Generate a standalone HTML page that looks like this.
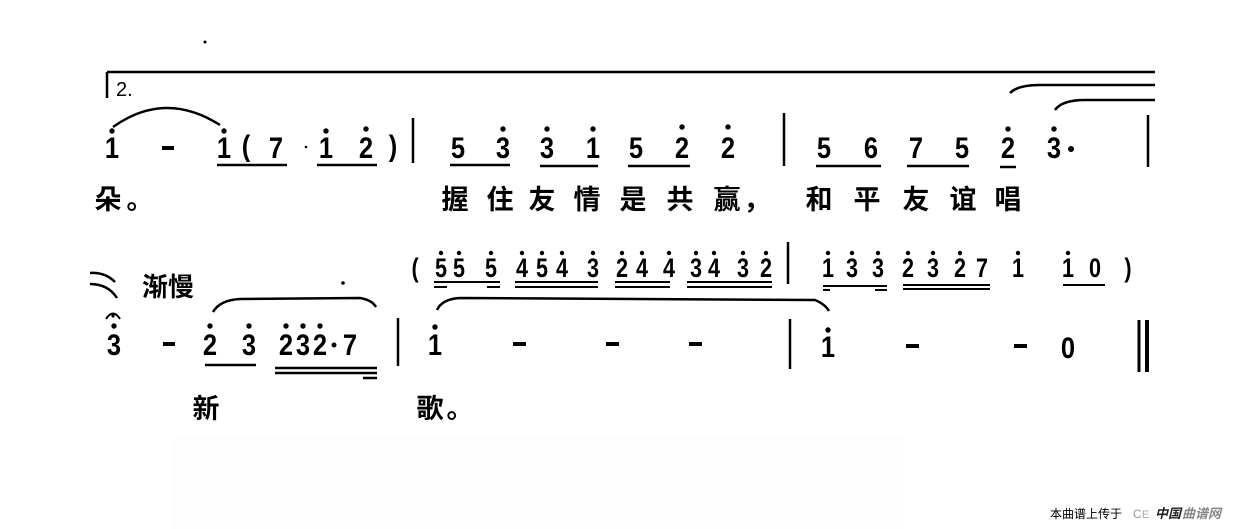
<!DOCTYPE html>
<html><head><meta charset="utf-8"><style>
html,body{margin:0;padding:0;background:#fff;}
svg{display:block;}
.n{font-family:"Liberation Sans",sans-serif;font-weight:bold;font-size:30px;text-anchor:middle;fill:#000;transform:scaleX(.85);transform-box:fill-box;transform-origin:center;}
.s{font-family:"Liberation Sans",sans-serif;font-weight:bold;font-size:27px;text-anchor:middle;fill:#000;transform:scaleX(.8);transform-box:fill-box;transform-origin:center;}
.l{font-family:"Liberation Sans","Noto Sans CJK SC",sans-serif;font-weight:bold;font-size:27px;text-anchor:middle;fill:#000;}
</style></head><body>
<svg width="1240" height="529" viewBox="0 0 1240 529" xmlns="http://www.w3.org/2000/svg">
<rect x="173" y="437" width="732" height="92" fill="#fdfdfd"/>
<circle cx="205" cy="42" r="1.5" fill="#000"/>
<line x1="107" y1="72" x2="1155" y2="72" stroke="#000" stroke-width="2.5"/>
<line x1="107" y1="72" x2="107" y2="98" stroke="#000" stroke-width="2.5"/>
<text x="116" y="96" font-family="Liberation Sans,sans-serif" font-size="20" fill="#000">2.</text>
<path d="M1010 93 Q1018 85 1040 85 L1155 85" fill="none" stroke="#000" stroke-width="2.5"/>
<path d="M1055 110 Q1062 100 1085 100 L1155 100" fill="none" stroke="#000" stroke-width="2.5"/>
<path d="M113 127 Q165 90 220 125" fill="none" stroke="#000" stroke-width="2.5"/>
<g>
<text class="n" x="112" y="158">1</text><circle cx="112" cy="131" r="2.7"/>
<rect x="162" y="146" width="12" height="4"/>
<text class="n" x="224" y="158">1</text><circle cx="224" cy="131" r="2.7"/>
<text class="n" x="246" y="156">(</text>
<text class="n" x="276" y="158">7</text>
<circle cx="306" cy="147" r="1.3"/>
<text class="n" x="326" y="158">1</text><circle cx="326" cy="131" r="2.7"/>
<text class="n" x="366" y="158">2</text><circle cx="366" cy="129" r="2.7"/>
<text class="n" x="393" y="156">)</text>
<line x1="217" y1="165" x2="287" y2="165" stroke="#000" stroke-width="2.5"/>
<line x1="317" y1="165" x2="377" y2="165" stroke="#000" stroke-width="2.5"/>
<line x1="413" y1="118" x2="413" y2="163" stroke="#000" stroke-width="2.5"/>
<text class="n" x="458" y="158">5</text>
<text class="n" x="503" y="158">3</text><circle cx="503" cy="129" r="2.7"/>
<text class="n" x="547" y="158">3</text><circle cx="547" cy="129" r="2.7"/>
<text class="n" x="593" y="158">1</text><circle cx="593" cy="129" r="2.7"/>
<text class="n" x="636" y="158">5</text>
<text class="n" x="682" y="158">2</text><circle cx="682" cy="127" r="2.7"/>
<text class="n" x="728" y="158">2</text><circle cx="728" cy="127" r="2.7"/>
<line x1="450" y1="165" x2="510" y2="165" stroke="#000" stroke-width="2.5"/>
<line x1="540" y1="166" x2="598" y2="166" stroke="#000" stroke-width="2.5"/>
<line x1="628" y1="166" x2="690" y2="166" stroke="#000" stroke-width="2.5"/>
<line x1="784" y1="113" x2="784" y2="166" stroke="#000" stroke-width="2.5"/>
<text class="n" x="824" y="158">5</text>
<text class="n" x="871" y="158">6</text>
<text class="n" x="916" y="158">7</text>
<text class="n" x="962" y="158">5</text>
<text class="n" x="1008" y="158">2</text><circle cx="1008" cy="129" r="2.7"/>
<text class="n" x="1054" y="158">3</text><circle cx="1054" cy="129" r="2.7"/>
<circle cx="1071" cy="149" r="3"/>
<line x1="816" y1="166" x2="881" y2="166" stroke="#000" stroke-width="2.5"/>
<line x1="907" y1="166" x2="969" y2="166" stroke="#000" stroke-width="2.5"/>
<line x1="1000" y1="167" x2="1016" y2="167" stroke="#000" stroke-width="2.5"/>
<line x1="1148" y1="115" x2="1148" y2="167" stroke="#000" stroke-width="2.5"/>
</g>
<text class="l" x="108" y="209">朵</text><text class="l" x="140" y="209">。</text>
<text class="l" x="455" y="209">握</text><text class="l" x="500" y="209">住</text><text class="l" x="542" y="209">友</text><text class="l" x="587" y="209">情</text><text class="l" x="633" y="209">是</text><text class="l" x="680" y="209">共</text><text class="l" x="727" y="209">赢</text><text class="l" x="757" y="209">，</text>
<text class="l" x="819" y="209">和</text><text class="l" x="867" y="209">平</text><text class="l" x="916" y="209">友</text><text class="l" x="963" y="209">谊</text><text class="l" x="1008" y="209">唱</text>
<path d="M90 273 Q105 272 115 282" fill="none" stroke="#000" stroke-width="2.5"/>
<path d="M90 284 Q108 284 117 298" fill="none" stroke="#000" stroke-width="2.5"/>
<text x="142" y="296" font-family="Liberation Sans,Noto Sans CJK SC,sans-serif" font-weight="bold" font-size="26" fill="#000">渐慢</text>
<circle cx="343" cy="283" r="1.8"/>
<path d="M106 319 Q113 308 120 319" fill="none" stroke="#000" stroke-width="2"/>
<circle cx="113" cy="316" r="1.6"/>
<text class="s" x="415" y="277">(</text>
<text class="s" x="441" y="277">5</text><circle cx="441" cy="253" r="2.2"/>
<text class="s" x="459" y="277">5</text><circle cx="459" cy="253" r="2.2"/>
<text class="s" x="491" y="277">5</text><circle cx="491" cy="253" r="2.2"/>
<text class="s" x="522" y="277">4</text><circle cx="522" cy="253" r="2.2"/>
<text class="s" x="542" y="277">5</text><circle cx="542" cy="253" r="2.2"/>
<text class="s" x="562" y="277">4</text><circle cx="562" cy="253" r="2.2"/>
<text class="s" x="593" y="277">3</text><circle cx="593" cy="253" r="2.2"/>
<text class="s" x="622" y="277">2</text><circle cx="622" cy="253" r="2.2"/>
<text class="s" x="642" y="277">4</text><circle cx="642" cy="253" r="2.2"/>
<text class="s" x="669" y="277">4</text><circle cx="669" cy="253" r="2.2"/>
<text class="s" x="696" y="277">3</text><circle cx="696" cy="253" r="2.2"/>
<text class="s" x="714" y="277">4</text><circle cx="714" cy="253" r="2.2"/>
<text class="s" x="743" y="277">3</text><circle cx="743" cy="253" r="2.2"/>
<text class="s" x="766" y="277">2</text><circle cx="766" cy="253" r="2.2"/>
<g stroke="#000" stroke-width="2">
<line x1="434" y1="282" x2="500" y2="282"/><line x1="434" y1="287" x2="447" y2="287"/><line x1="487" y1="287" x2="500" y2="287"/>
<line x1="515" y1="282" x2="598" y2="282"/><line x1="515" y1="287" x2="598" y2="287"/>
<line x1="615" y1="282" x2="670" y2="282"/><line x1="615" y1="287" x2="670" y2="287"/>
<line x1="687" y1="282" x2="772" y2="282"/><line x1="687" y1="287" x2="772" y2="287"/>
<line x1="823" y1="286" x2="887" y2="286"/><line x1="823" y1="290" x2="830" y2="290"/><line x1="875" y1="290" x2="887" y2="290"/>
<line x1="903" y1="285" x2="990" y2="285"/><line x1="903" y1="289" x2="990" y2="289"/>
<line x1="1063" y1="285" x2="1105" y2="285"/>
</g>
<line x1="788" y1="242" x2="788" y2="284" stroke="#000" stroke-width="2.5"/>
<text class="s" x="828" y="277">1</text><circle cx="828" cy="253" r="2.2"/>
<text class="s" x="852" y="277">3</text><circle cx="852" cy="253" r="2.2"/>
<text class="s" x="878" y="277">3</text><circle cx="878" cy="253" r="2.2"/>
<text class="s" x="908" y="277">2</text><circle cx="908" cy="253" r="2.2"/>
<text class="s" x="933" y="277">3</text><circle cx="933" cy="253" r="2.2"/>
<text class="s" x="960" y="277">2</text><circle cx="960" cy="253" r="2.2"/>
<text class="s" x="982" y="277">7</text>
<text class="s" x="1018" y="277">1</text><circle cx="1018" cy="253" r="2.2"/>
<text class="s" x="1068" y="277">1</text><circle cx="1068" cy="253" r="2.2"/>
<text class="s" x="1095" y="277">0</text>
<text class="s" x="1128" y="277">)</text>
<path d="M213 312 Q220 300 240 299 L360 298 Q372 300 376 307" fill="none" stroke="#000" stroke-width="2.5"/>
<path d="M437 310 Q442 299 460 298 L815 300 Q825 304 829 311" fill="none" stroke="#000" stroke-width="2.5"/>
<text class="n" x="114" y="355">3</text><circle cx="114" cy="326" r="2.7"/>
<rect x="163" y="342" width="12" height="4"/>
<text class="n" x="210" y="355">2</text><circle cx="210" cy="326" r="2.7"/>
<text class="n" x="249" y="355">3</text><circle cx="249" cy="326" r="2.7"/>
<text class="n" x="286" y="355">2</text><circle cx="286" cy="326" r="2.7"/>
<text class="n" x="303" y="355">3</text><circle cx="303" cy="326" r="2.7"/>
<text class="n" x="320" y="355">2</text><circle cx="320" cy="326" r="2.7"/>
<circle cx="334" cy="345" r="2.5"/>
<text class="n" x="350" y="355">7</text>
<g stroke="#000" stroke-width="2.5">
<line x1="205" y1="365" x2="256" y2="365"/>
<line x1="275" y1="368" x2="377" y2="368"/>
<line x1="275" y1="373" x2="377" y2="373"/>
<line x1="363" y1="378" x2="377" y2="378"/>
</g>
<line x1="398" y1="318" x2="398" y2="366" stroke="#000" stroke-width="2.5"/>
<text class="n" x="435" y="355">1</text><circle cx="435" cy="327" r="2.7"/>
<rect x="513" y="342" width="13" height="4"/>
<rect x="606" y="342" width="13" height="4"/>
<rect x="689" y="342" width="13" height="4"/>
<line x1="790" y1="319" x2="790" y2="369" stroke="#000" stroke-width="2.5"/>
<text class="n" x="828" y="357">1</text><circle cx="828" cy="330" r="2.7"/>
<rect x="906" y="344" width="13" height="4"/>
<rect x="1014" y="344" width="13" height="4"/>
<text class="n" x="1068" y="358">0</text>
<line x1="1139" y1="320" x2="1139" y2="372" stroke="#000" stroke-width="3"/>
<line x1="1147" y1="320" x2="1147" y2="372" stroke="#000" stroke-width="4"/>
<text class="l" x="206" y="418">新</text>
<text class="l" x="430" y="418">歌</text><text class="l" x="460" y="418">。</text>
<text x="1050" y="518" font-family="Liberation Sans,Noto Sans CJK SC,sans-serif" font-size="12" fill="#000">本曲谱上传于</text>
<text x="1133" y="518" font-family="Liberation Sans,Noto Sans CJK SC,sans-serif" font-size="12" fill="#999">C</text>
<text x="1142" y="518" font-family="Liberation Sans,Noto Sans CJK SC,sans-serif" font-size="11" fill="#aaa">E</text>
<text x="1155" y="518" font-family="Liberation Sans,Noto Sans CJK SC,sans-serif" font-weight="bold" font-style="italic" font-size="13" fill="#222">中国</text>
<text x="1182" y="518" font-family="Liberation Sans,Noto Sans CJK SC,sans-serif" font-weight="bold" font-style="italic" font-size="13" fill="#888">曲谱网</text>
</svg>
</body></html>
